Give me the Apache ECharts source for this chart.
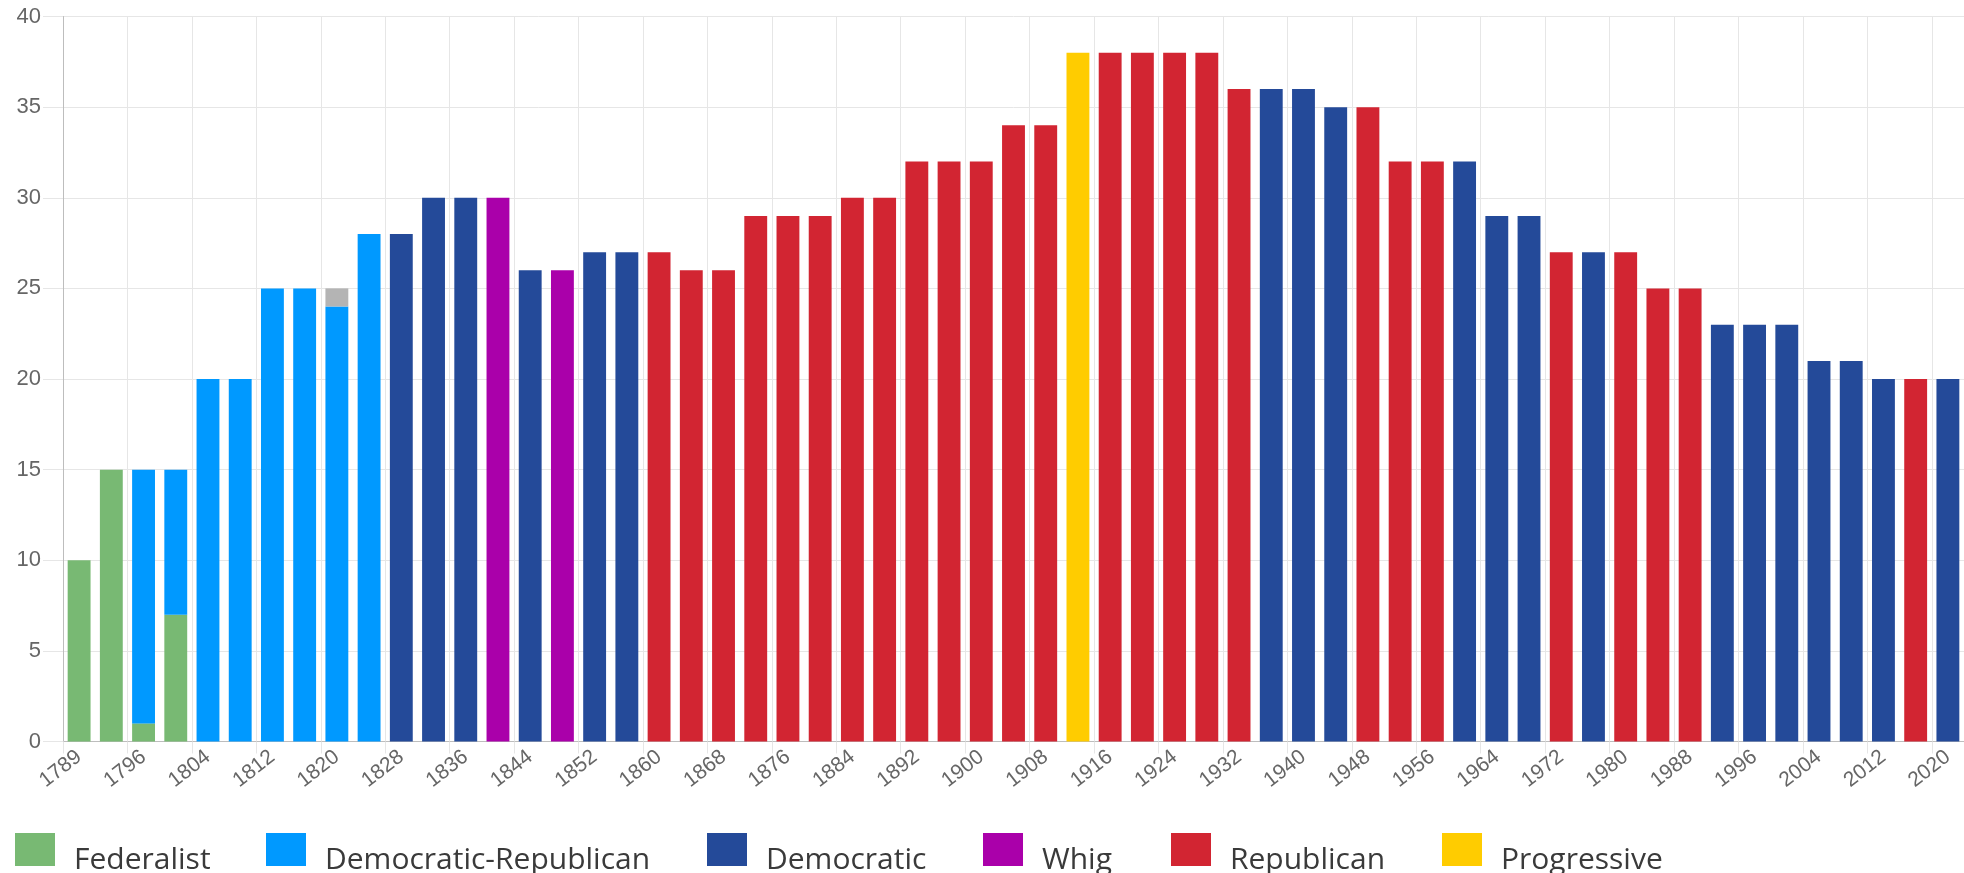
<!DOCTYPE html>
<html>
<head>
<meta charset="utf-8">
<script src="https://cdn.jsdelivr.net/npm/echarts@6/dist/echarts.min.js"></script>
<style>
html,body{margin:0;padding:0;background:#fff;}
#chart{width:1964px;height:873px;}
</style>
</head>
<body>
<div id="chart"></div>
<script>
// Election years (categories)
const years = ['1789','1792','1796','1800','1804','1808','1812','1816','1820','1824','1828','1832','1836','1840','1844','1848','1852','1856','1860','1864','1868','1872','1876','1880','1884','1888','1892','1896','1900','1904','1908','1912','1916','1920','1924','1928','1932','1936','1940','1944','1948','1952','1956','1960','1964','1968','1972','1976','1980','1984','1988','1992','1996','2000','2004','2008','2012','2016','2020'];

// Values per party (year -> value)
const federalistYears = ['1789','1792','1796','1800'];
const federalistValues = [10, 15, 1, 7];

const demRepYears = ['1796','1800','1804','1808','1812','1816','1820','1824'];
const demRepValues = [14, 8, 20, 20, 25, 25, 24, 28];

const otherYears = ['1820'];
const otherValues = [1];

const democraticYears = ['1828','1832','1836','1844','1852','1856','1936','1940','1944','1960','1964','1968','1976','1992','1996','2000','2004','2008','2012','2020'];
const democraticValues = [28, 30, 30, 26, 27, 27, 36, 36, 35, 32, 29, 29, 27, 23, 23, 23, 21, 21, 20, 20];

const whigYears = ['1840','1848'];
const whigValues = [30, 26];

const republicanYears = ['1860','1864','1868','1872','1876','1880','1884','1888','1892','1896','1900','1904','1908','1916','1920','1924','1928','1932','1948','1952','1956','1972','1980','1984','1988','2016'];
const republicanValues = [27, 26, 26, 29, 29, 29, 30, 30, 32, 32, 32, 34, 34, 38, 38, 38, 38, 36, 35, 32, 32, 27, 27, 25, 25, 20];

const progressiveYears = ['1912'];
const progressiveValues = [38];

const yTicks = { min: 0, max: 40, interval: 5 };

function toSeriesData(ys, vs) {
  return years.map(function (y) {
    const i = ys.indexOf(y);
    return i >= 0 ? vs[i] : null;
  });
}

const parties = [
  { name: 'Federalist', ys: federalistYears, vs: federalistValues, color: '#78b973' },
  { name: 'Democratic-Republican', ys: demRepYears, vs: demRepValues, color: '#0099ff' },
  { name: 'Other', ys: otherYears, vs: otherValues, color: '#b4b4b4' },
  { name: 'Democratic', ys: democraticYears, vs: democraticValues, color: '#244a99' },
  { name: 'Whig', ys: whigYears, vs: whigValues, color: '#aa00aa' },
  { name: 'Republican', ys: republicanYears, vs: republicanValues, color: '#d22532' },
  { name: 'Progressive', ys: progressiveYears, vs: progressiveValues, color: '#ffcc00' }
];

const legendNames = ['Federalist', 'Democratic-Republican', 'Democratic', 'Whig', 'Republican', 'Progressive'];
const legendLefts = [15, 266, 707, 983, 1171, 1442];

const gridColor = '#e6e6e6';
const axisColor = '#bdbdbd';

const chart = echarts.init(document.getElementById('chart'), null, { renderer: 'canvas' });

const option = {
  animation: false,
  backgroundColor: '#ffffff',
  grid: { left: 63, top: 16.5, width: 1911, height: 725, containLabel: false },
  legend: legendNames.map(function (n, k) {
    return {
      data: [n],
      left: legendLefts[k],
      top: 833,
      padding: 0,
      itemWidth: 40,
      itemHeight: 33,
      icon: 'rect',
      selectedMode: false,
      formatter: function (name) { return '{t|' + name + '}'; },
      textStyle: {
        rich: {
          t: { fontSize: 30, fontFamily: 'Open Sans', color: '#3a3a3a', padding: [21, 0, 0, 14] }
        }
      }
    };
  }),
  xAxis: {
    type: 'category',
    data: years,
    boundaryGap: true,
    axisLine: { show: true, lineStyle: { color: axisColor, width: 1 } },
    axisTick: { show: true, interval: 1, length: 12, lineStyle: { color: gridColor } },
    axisLabel: { interval: 1, rotate: 38, fontSize: 21, color: '#666', fontFamily: 'Liberation Sans', margin: 13 },
    splitLine: { show: true, interval: 1, lineStyle: { color: gridColor, width: 1 } }
  },
  yAxis: {
    type: 'value',
    min: yTicks.min,
    max: yTicks.max,
    interval: yTicks.interval,
    axisLine: { show: true, lineStyle: { color: axisColor, width: 1 } },
    axisTick: { show: true, length: 20, lineStyle: { color: gridColor } },
    axisLabel: { fontSize: 22, color: '#666', fontFamily: 'Liberation Sans', margin: 22 },
    splitLine: { show: true, lineStyle: { color: gridColor, width: 1 } }
  },
  series: parties.map(function (p) {
    return {
      name: p.name,
      type: 'bar',
      stack: 'total',
      barCategoryGap: '29%',
      itemStyle: { color: p.color },
      data: toSeriesData(p.ys, p.vs)
    };
  })
};

chart.setOption(option);
</script>
</body>
</html>
